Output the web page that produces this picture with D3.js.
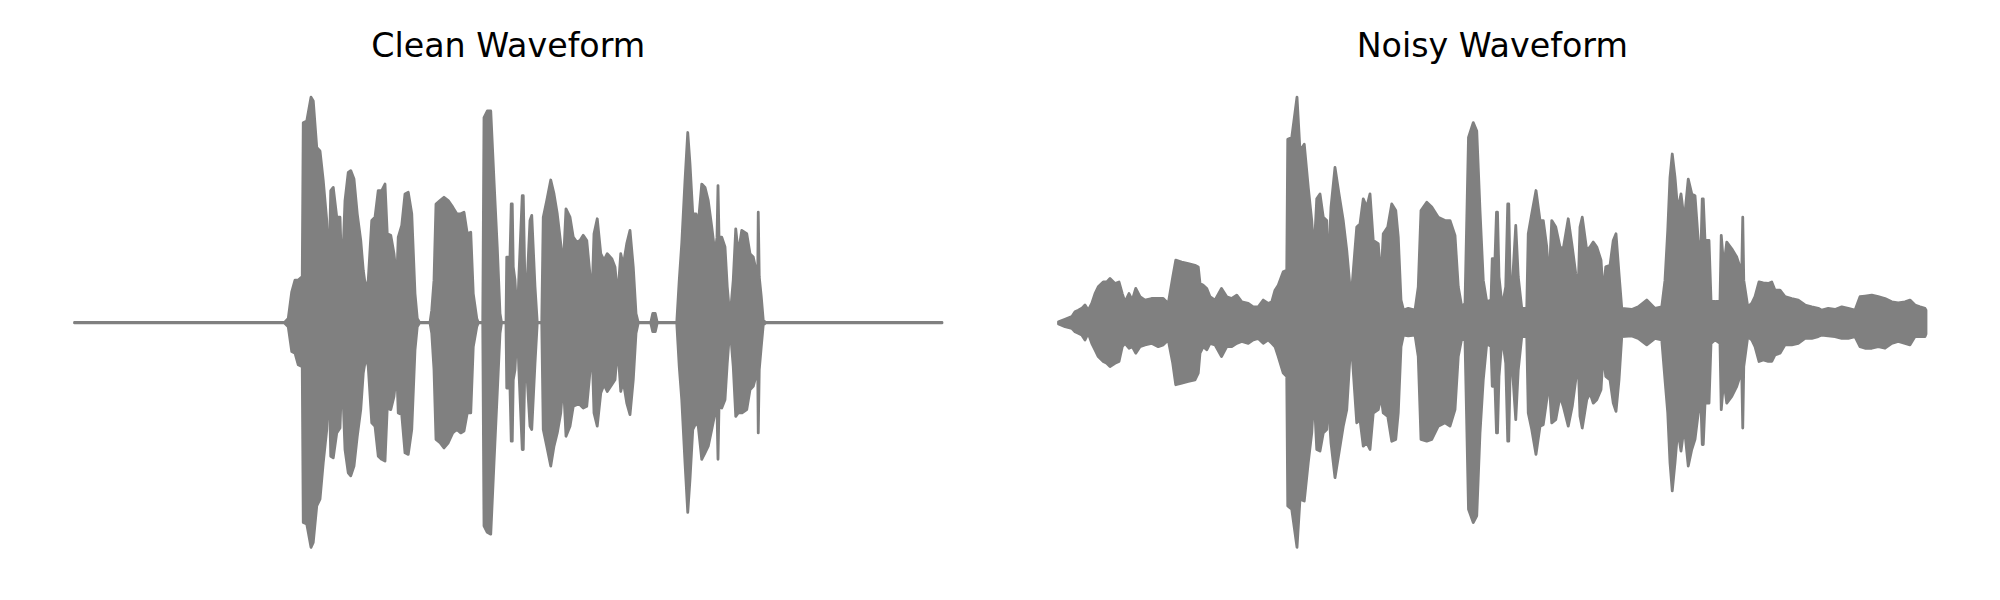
<!DOCTYPE html>
<html>
<head>
<meta charset="utf-8">
<script src="https://cdn.jsdelivr.net/npm/d3@7"></script>
<style>
  html, body { margin: 0; padding: 0; background: #ffffff; }
  svg { display: block; }
</style>
</head>
<body>
<svg id="chart" width="2000" height="600"></svg>
<script>
// Panel titles
const panelTitles = ["Clean Waveform", "Noisy Waveform"];
const clipDuration = 3.47; // seconds

// Envelope of the clean waveform: [time (s), upper amplitude, lower amplitude]
const cleanEnvelope = [
  [0,0.001,-0.001],[0.84,0.001,-0.001],[0.855,0.019,-0.018],[0.869,0.138,-0.129],[0.882,0.19,-0.136],
  [0.895,0.19,-0.188],[0.909,0.204,-0.196],[0.911,0.204,-0.196],[0.915,0.893,-0.892],[0.929,0.901,-0.899],
  [0.946,1.007,-1.003],[0.955,0.99,-0.981],[0.969,0.782,-0.818],[0.982,0.767,-0.788],[0.995,0.634,-0.625],
  [1.009,0.456,-0.477],[1.018,0.219,-0.225],[1.025,0.59,-0.596],[1.035,0.604,-0.603],[1.049,0.471,-0.492],
  [1.062,0.471,-0.47],[1.070,0.19,-0.21],[1.082,0.545,-0.566],[1.095,0.671,-0.67],[1.105,0.679,-0.684],
  [1.118,0.641,-0.64],[1.131,0.486,-0.507],[1.145,0.367,-0.388],[1.155,0.234,-0.225],[1.166,0.145,-0.151],
  [1.175,0.19,-0.196],[1.189,0.456,-0.447],[1.202,0.471,-0.462],[1.215,0.59,-0.596],[1.229,0.59,-0.61],
  [1.242,0.619,-0.618],[1.251,0.397,-0.381],[1.265,0.39,-0.388],[1.278,0.308,-0.329],[1.289,0.19,-0.21],
  [1.295,0.382,-0.403],[1.309,0.434,-0.41],[1.322,0.575,-0.581],[1.335,0.582,-0.588],[1.349,0.486,-0.477],
  [1.362,0.13,-0.121],[1.371,0.019,-0.018],[1.38,0.001,-0.001],[1.422,0.001,-0.001],[1.429,0.056,-0.047],
  [1.438,0.19,-0.21],[1.446,0.53,-0.521],[1.462,0.545,-0.536],[1.478,0.56,-0.559],[1.495,0.545,-0.536],
  [1.513,0.516,-0.492],[1.529,0.486,-0.477],[1.545,0.486,-0.492],[1.558,0.493,-0.484],[1.571,0.397,-0.403],
  [1.585,0.404,-0.403],[1.595,0.13,-0.107],[1.609,0.019,-0.018],[1.615,0.001,-0.001],[1.633,0.001,-0.001],
  [1.638,0.916,-0.907],[1.651,0.945,-0.936],[1.665,0.945,-0.944],[1.678,0.634,-0.625],[1.691,0.338,-0.314],
  [1.702,0.041,-0.047],[1.708,0.001,-0.001],[1.726,0.001,-0.001],[1.729,0.293,-0.292],[1.742,0.293,-0.292],
  [1.747,0.53,-0.529],[1.751,0.53,-0.529],[1.755,0.249,-0.255],[1.762,0.19,-0.21],[1.771,0.01,-0.01],
  [1.777,0.19,-0.196],[1.791,0.567,-0.566],[1.795,0.567,-0.566],[1.801,0.219,-0.225],[1.811,0.19,-0.255],
  [1.822,0.456,-0.462],[1.829,0.479,-0.477],[1.842,0.16,-0.181],[1.851,0.001,-0.001],[1.869,0.001,-0.001],
  [1.875,0.471,-0.477],[1.889,0.545,-0.551],[1.905,0.637,-0.64],[1.918,0.575,-0.551],[1.931,0.486,-0.492],
  [1.945,0.353,-0.403],[1.955,0.249,-0.255],[1.966,0.508,-0.507],[1.982,0.471,-0.462],[1.995,0.382,-0.373],
  [2.009,0.36,-0.366],[2.022,0.367,-0.366],[2.035,0.39,-0.381],[2.049,0.367,-0.373],[2.059,0.249,-0.255],
  [2.07,0.116,-0.107],[2.078,0.397,-0.403],[2.091,0.464,-0.462],[2.105,0.308,-0.314],[2.118,0.279,-0.277],
  [2.131,0.308,-0.307],[2.149,0.286,-0.277],[2.162,0.249,-0.255],[2.173,0.116,-0.107],[2.185,0.308,-0.307],
  [2.195,0.256,-0.262],[2.209,0.353,-0.359],[2.222,0.412,-0.41],[2.235,0.249,-0.255],[2.246,0.041,-0.047],
  [2.255,0.001,-0.001],[2.305,0.001,-0.001],[2.313,0.041,-0.04],[2.323,0.041,-0.04],[2.331,0.001,-0.001],
  [2.409,0.001,-0.001],[2.419,0.19,-0.196],[2.429,0.353,-0.344],[2.442,0.634,-0.625],[2.453,0.849,-0.847],
  [2.462,0.708,-0.699],[2.473,0.486,-0.477],[2.486,0.486,-0.447],[2.495,0.441,-0.462],[2.509,0.619,-0.61],
  [2.522,0.604,-0.581],[2.535,0.545,-0.551],[2.549,0.427,-0.477],[2.562,0.308,-0.403],[2.57,0.382,-0.388],
  [2.574,0.612,-0.61],[2.578,0.382,-0.373],[2.589,0.382,-0.381],[2.602,0.338,-0.344],[2.611,0.16,-0.181],
  [2.622,0.019,-0.018],[2.635,0.19,-0.196],[2.645,0.419,-0.418],[2.655,0.308,-0.403],[2.669,0.412,-0.403],
  [2.689,0.397,-0.388],[2.702,0.308,-0.299],[2.715,0.293,-0.284],[2.729,0.219,-0.225],[2.733,0.219,-0.225],
  [2.735,0.493,-0.492],[2.739,0.204,-0.21],[2.747,0.116,-0.107],[2.755,0.01,-0.01],[2.765,0.001,-0.001],
  [3.47,0.001,-0.001]
];

// Envelope of the noisy waveform: [time (s), upper amplitude, lower amplitude]
const noisyEnvelope = [
  [0,0.004,-0.006],[0.026,0.015,-0.018],[0.053,0.027,-0.025],[0.066,0.049,-0.04],[0.079,0.056,-0.047],
  [0.093,0.064,-0.055],[0.106,0.079,-0.077],[0.119,0.056,-0.047],[0.133,0.086,-0.092],[0.146,0.13,-0.121],
  [0.159,0.16,-0.151],[0.179,0.182,-0.173],[0.193,0.182,-0.181],[0.206,0.197,-0.196],[0.226,0.175,-0.181],
  [0.242,0.182,-0.173],[0.255,0.13,-0.107],[0.266,0.093,-0.092],[0.282,0.13,-0.114],[0.295,0.101,-0.107],
  [0.309,0.153,-0.136],[0.326,0.116,-0.107],[0.346,0.101,-0.099],[0.372,0.108,-0.092],[0.399,0.108,-0.107],
  [0.419,0.108,-0.099],[0.439,0.086,-0.077],[0.457,0.204,-0.181],[0.469,0.279,-0.277],[0.493,0.271,-0.27],
  [0.519,0.264,-0.262],[0.546,0.256,-0.255],[0.559,0.249,-0.225],[0.566,0.175,-0.136],[0.579,0.167,-0.107],
  [0.593,0.153,-0.121],[0.606,0.116,-0.092],[0.626,0.101,-0.099],[0.652,0.153,-0.151],[0.673,0.116,-0.107],
  [0.693,0.108,-0.107],[0.713,0.123,-0.092],[0.733,0.093,-0.084],[0.759,0.086,-0.092],[0.779,0.071,-0.077],
  [0.799,0.071,-0.07],[0.819,0.101,-0.092],[0.839,0.086,-0.077],[0.853,0.093,-0.092],[0.866,0.145,-0.107],
  [0.879,0.167,-0.151],[0.899,0.227,-0.225],[0.913,0.234,-0.24],[0.917,0.819,-0.818],[0.933,0.827,-0.833],
  [0.954,1.007,-1.003],[0.966,0.767,-0.788],[0.983,0.797,-0.796],[0.999,0.604,-0.625],[1.013,0.456,-0.492],
  [1.022,0.308,-0.314],[1.033,0.553,-0.566],[1.046,0.575,-0.573],[1.059,0.471,-0.492],[1.073,0.456,-0.477],
  [1.077,0.19,-0.314],[1.09,0.516,-0.536],[1.106,0.693,-0.692],[1.122,0.575,-0.581],[1.139,0.456,-0.462],
  [1.153,0.323,-0.388],[1.166,0.16,-0.151],[1.175,0.175,-0.151],[1.193,0.427,-0.447],[1.206,0.441,-0.433],
  [1.219,0.553,-0.551],[1.233,0.516,-0.536],[1.246,0.575,-0.566],[1.259,0.367,-0.403],[1.279,0.353,-0.388],
  [1.29,0.19,-0.329],[1.299,0.397,-0.403],[1.317,0.427,-0.418],[1.333,0.53,-0.529],[1.349,0.501,-0.521],
  [1.359,0.382,-0.403],[1.37,0.101,-0.107],[1.38,0.056,-0.055],[1.399,0.064,-0.059],[1.426,0.056,-0.055],
  [1.439,0.16,-0.151],[1.45,0.501,-0.521],[1.473,0.538,-0.529],[1.493,0.516,-0.521],[1.519,0.471,-0.462],
  [1.546,0.456,-0.447],[1.566,0.456,-0.462],[1.586,0.39,-0.388],[1.599,0.16,-0.151],[1.613,0.071,-0.07],
  [1.626,0.086,-0.077],[1.640,0.827,-0.833],[1.659,0.893,-0.892],[1.673,0.856,-0.862],[1.686,0.501,-0.492],
  [1.699,0.19,-0.255],[1.713,0.093,-0.092],[1.73,0.101,-0.107],[1.735,0.286,-0.284],[1.746,0.286,-0.284],
  [1.752,0.493,-0.492],[1.756,0.493,-0.492],[1.762,0.204,-0.24],[1.775,0.071,-0.062],[1.789,0.16,-0.181],
  [1.797,0.53,-0.529],[1.801,0.53,-0.529],[1.807,0.16,-0.196],[1.815,0.16,-0.196],[1.829,0.434,-0.433],
  [1.839,0.204,-0.21],[1.853,0.064,-0.062],[1.873,0.064,-0.062],[1.879,0.397,-0.403],[1.893,0.486,-0.477],
  [1.91,0.59,-0.588],[1.926,0.456,-0.462],[1.939,0.456,-0.455],[1.953,0.338,-0.344],[1.962,0.175,-0.255],
  [1.973,0.456,-0.447],[1.989,0.427,-0.433],[2.006,0.338,-0.329],[2.019,0.33,-0.373],[2.039,0.464,-0.462],
  [2.055,0.338,-0.373],[2.069,0.219,-0.255],[2.079,0.16,-0.181],[2.086,0.427,-0.418],[2.095,0.471,-0.47],
  [2.113,0.323,-0.344],[2.126,0.338,-0.314],[2.139,0.36,-0.359],[2.153,0.338,-0.344],[2.17,0.279,-0.299],
  [2.179,0.13,-0.136],[2.189,0.249,-0.24],[2.206,0.256,-0.255],[2.219,0.367,-0.359],[2.23,0.397,-0.396],
  [2.242,0.219,-0.255],[2.253,0.064,-0.062],[2.293,0.059,-0.059],[2.319,0.071,-0.07],[2.353,0.101,-0.099],
  [2.386,0.064,-0.07],[2.413,0.071,-0.077],[2.426,0.19,-0.255],[2.437,0.412,-0.403],[2.446,0.649,-0.625],
  [2.455,0.753,-0.751],[2.466,0.649,-0.625],[2.477,0.501,-0.477],[2.49,0.575,-0.573],[2.503,0.456,-0.462],
  [2.519,0.641,-0.64],[2.533,0.575,-0.566],[2.546,0.567,-0.521],[2.559,0.367,-0.403],[2.57,0.338,-0.373],
  [2.575,0.553,-0.544],[2.579,0.553,-0.544],[2.586,0.367,-0.359],[2.602,0.367,-0.359],[2.61,0.101,-0.092],
  [2.626,0.093,-0.077],[2.646,0.101,-0.092],[2.651,0.39,-0.388],[2.661,0.249,-0.255],[2.673,0.36,-0.359],
  [2.693,0.33,-0.329],[2.713,0.293,-0.284],[2.73,0.234,-0.225],[2.733,0.234,-0.225],[2.737,0.471,-0.47],
  [2.741,0.19,-0.196],[2.757,0.071,-0.062],[2.773,0.086,-0.077],[2.786,0.116,-0.107],[2.802,0.182,-0.173],
  [2.819,0.178,-0.166],[2.839,0.175,-0.173],[2.853,0.182,-0.173],[2.866,0.145,-0.144],[2.886,0.145,-0.136],
  [2.906,0.116,-0.099],[2.933,0.108,-0.099],[2.959,0.101,-0.092],[2.986,0.079,-0.07],[3.013,0.071,-0.07],
  [3.039,0.064,-0.062],[3.053,0.056,-0.055],[3.079,0.064,-0.059],[3.106,0.059,-0.062],[3.133,0.071,-0.07],
  [3.159,0.064,-0.07],[3.186,0.056,-0.062],[3.206,0.116,-0.107],[3.226,0.119,-0.114],[3.253,0.123,-0.114],
  [3.279,0.116,-0.107],[3.306,0.108,-0.114],[3.333,0.093,-0.092],[3.359,0.089,-0.084],[3.386,0.093,-0.092],
  [3.406,0.101,-0.099],[3.426,0.079,-0.062],[3.446,0.071,-0.062],[3.466,0.064,-0.062],[3.47,0.056,-0.05]
];

const panels = [
  { title: panelTitles[0], data: cleanEnvelope, left: 74.5 },
  { title: panelTitles[1], data: noisyEnvelope, left: 1058.5 }
];

const svg = d3.select("#chart");
const panelWidth = 867.5;
const centerY = 322.7;
const ampPx = 224;
const waveColor = "#808080";

panels.forEach(p => {
  const x = d3.scaleLinear().domain([0, clipDuration]).range([p.left, p.left + panelWidth]);
  const y = d3.scaleLinear().domain([-1, 1]).range([centerY + ampPx, centerY - ampPx]);
  const g = svg.append("g");

  const area = d3.area()
    .x(d => x(d[0]))
    .y0(d => y(d[2]))
    .y1(d => y(d[1]));

  g.append("path")
    .datum(p.data)
    .attr("d", area)
    .attr("fill", waveColor)
    .attr("stroke", waveColor)
    .attr("stroke-width", 2.8)
    .attr("stroke-linejoin", "round")
    .attr("stroke-linecap", "round");

  g.append("text")
    .attr("x", (x.range()[0] + x.range()[1]) / 2)
    .attr("y", 57.3)
    .attr("text-anchor", "middle")
    .attr("font-family", "DejaVu Sans")
    .attr("font-size", 33.3)
    .attr("fill", "#000000")
    .text(p.title);
});
</script>
</body>
</html>
